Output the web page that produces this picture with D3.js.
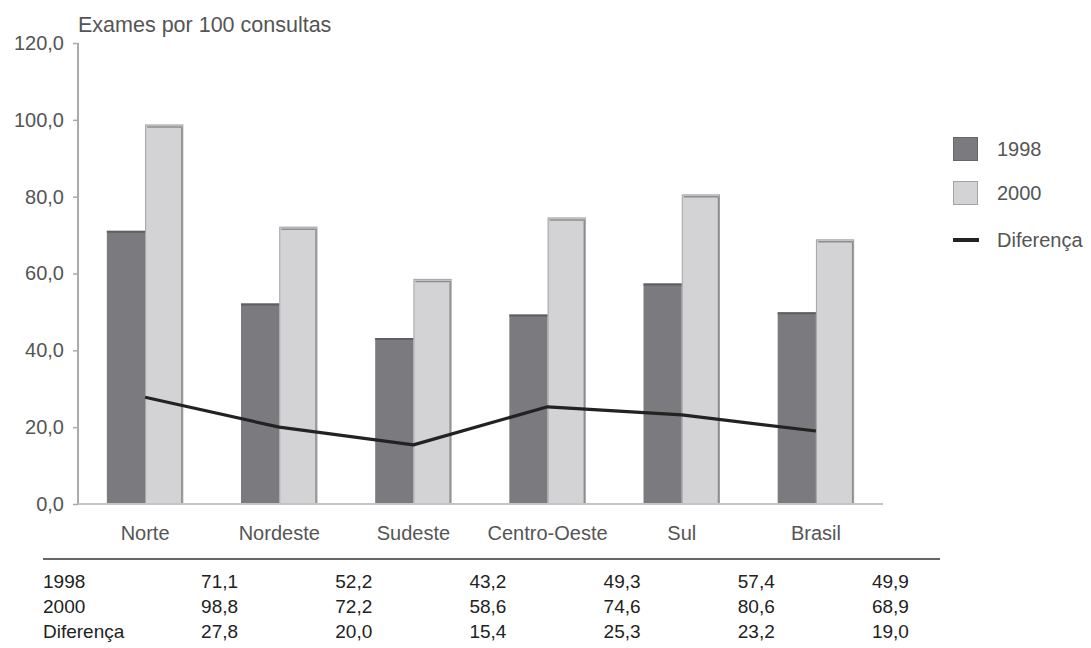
<!DOCTYPE html>
<html>
<head>
<meta charset="utf-8">
<script src="https://cdn.jsdelivr.net/npm/d3@7"></script>
<style>
  html, body { margin: 0; padding: 0; background: #fff; }
  svg { display: block; }
</style>
</head>
<body>
<div id="chart"></div>
<script>
const categories = ["Norte", "Nordeste", "Sudeste", "Centro-Oeste", "Sul", "Brasil"];
const values1998 = [71.1, 52.2, 43.2, 49.3, 57.4, 49.9];
const values2000 = [98.8, 72.2, 58.6, 74.6, 80.6, 68.9];
const diferenca = [27.8, 20.0, 15.4, 25.3, 23.2, 19.0];
const yTicks = [0, 20, 40, 60, 80, 100, 120];
const seriesNames = ["1998", "2000", "Diferença"];
const tableRowLabels = ["1998", "2000", "Diferença"];
const yTitle = "Exames por 100 consultas";

const W = 1091, H = 648;
const fmt = v => d3.format(".1f")(v).replace(".", ",");

const svg = d3.select("#chart").append("svg").attr("width", W).attr("height", H);

const x = d3.scaleBand().domain(categories).range([78, 883]).paddingInner(0.43).paddingOuter(0.215);
const xs = d3.scaleBand().domain(["1998", "2000"]).range([0, x.bandwidth()]).padding(0);
const y = d3.scaleLinear().domain([0, 120]).range([504, 43]);

const axisFont = "Liberation Sans, Arial, sans-serif";
const narrowFont = "'Liberation Sans Narrow', 'Arial Narrow', 'Liberation Sans', sans-serif";

// Bars
const g = svg.append("g");
const groups = g.selectAll("g.grp").data(categories).join("g")
  .attr("transform", d => `translate(${x(d)},0)`);

groups.append("rect")
  .attr("x", xs("1998"))
  .attr("y", (d, i) => y(values1998[i]))
  .attr("width", xs.bandwidth())
  .attr("height", (d, i) => y(0) - y(values1998[i]))
  .attr("fill", "#7b7b7f");
groups.append("line")
  .attr("x1", xs("1998")).attr("x2", xs("1998") + xs.bandwidth())
  .attr("y1", (d, i) => y(values1998[i]) + 1).attr("y2", (d, i) => y(values1998[i]) + 1)
  .attr("stroke", "#5f5f63").attr("stroke-width", 2);

groups.append("rect")
  .attr("x", xs("2000") + 0.5)
  .attr("y", (d, i) => y(values2000[i]) + 0.5)
  .attr("width", xs.bandwidth() - 1)
  .attr("height", (d, i) => y(0) - y(values2000[i]) - 0.5)
  .attr("fill", "#d3d3d5")
  .attr("stroke", "#a2a2a4").attr("stroke-width", 1);
groups.append("line")
  .attr("x1", xs("2000") + 2).attr("x2", xs("2000") + xs.bandwidth() - 2)
  .attr("y1", (d, i) => y(values2000[i]) + 2.5).attr("y2", (d, i) => y(values2000[i]) + 2.5)
  .attr("stroke", "#8e8e90").attr("stroke-width", 1.5);
groups.append("line")
  .attr("x1", xs("2000") + xs.bandwidth() - 1.5).attr("x2", xs("2000") + xs.bandwidth() - 1.5)
  .attr("y1", (d, i) => y(values2000[i]) + 2).attr("y2", y(0))
  .attr("stroke", "#8e8e90").attr("stroke-width", 1.5);

// Axes
const yAxis = d3.axisLeft(y).tickValues(yTicks).tickFormat(fmt).tickSize(5).tickPadding(9);
const ya = svg.append("g").attr("transform", "translate(78,0)").call(yAxis);
ya.select(".domain").attr("stroke", "#aaa").attr("stroke-width", 2).attr("d", `M0,${y(120)}V${y(0)}`);
ya.selectAll(".tick line").attr("stroke", "#aaa").attr("stroke-width", 1.5);
ya.selectAll(".tick text").attr("font-family", axisFont).attr("font-size", 20).attr("fill", "#555");

const xAxis = d3.axisBottom(x).tickSize(0).tickPadding(22);
const xa = svg.append("g").attr("transform", `translate(0,${y(0)})`).call(xAxis);
xa.select(".domain").attr("stroke", "#c4c4c4").attr("stroke-width", 2).attr("d", `M78,0H883`);
xa.selectAll(".tick text").attr("font-family", axisFont).attr("font-size", 20).attr("fill", "#555");

// Line
const line = d3.line()
  .x((d, i) => x(categories[i]) + xs("2000"))
  .y(d => y(d));
svg.append("path").datum(diferenca).attr("d", line)
  .attr("fill", "none").attr("stroke", "#222").attr("stroke-width", 3.2).attr("stroke-linejoin", "round");

// Title
svg.append("text").attr("x", 78).attr("y", 32).text(yTitle)
  .attr("font-family", axisFont).attr("font-size", 21.5).attr("fill", "#555");

// Legend
const lg = svg.append("g").attr("transform", "translate(953,0)");
lg.append("rect").attr("x", 0.5).attr("y", 137.5).attr("width", 24).attr("height", 23)
  .attr("fill", "#7b7b7f").attr("stroke", "#666").attr("stroke-width", 1);
lg.append("rect").attr("x", 0.5).attr("y", 181.5).attr("width", 24).attr("height", 23)
  .attr("fill", "#d3d3d5").attr("stroke", "#a2a2a4").attr("stroke-width", 1);
lg.append("line").attr("x1", 0).attr("x2", 26).attr("y1", 240).attr("y2", 240)
  .attr("stroke", "#222").attr("stroke-width", 4);
const legY = [149, 193, 240];
lg.selectAll("text.leg").data(seriesNames).join("text")
  .attr("x", 44).attr("y", (d, i) => legY[i]).attr("dy", "0.35em")
  .text(d => d)
  .attr("font-family", axisFont).attr("font-size", 20).attr("fill", "#555");

// Table
svg.append("line").attr("x1", 43).attr("x2", 940).attr("y1", 559).attr("y2", 559)
  .attr("stroke", "#333").attr("stroke-width", 1.5);
const rows = [values1998, values2000, diferenca];
const rowY = [588, 613, 638];
rows.forEach((vals, r) => {
  svg.append("text").attr("x", 43).attr("y", rowY[r]).text(tableRowLabels[r])
    .attr("font-family", narrowFont).attr("font-size", 19).attr("fill", "#222");
  svg.selectAll(null).data(vals).join("text")
    .attr("x", (d, i) => x(categories[i]) + xs("2000") + 93)
    .attr("y", rowY[r]).attr("text-anchor", "end")
    .text(d => fmt(d))
    .attr("font-family", narrowFont).attr("font-size", 19).attr("fill", "#222");
});
</script>
</body>
</html>
